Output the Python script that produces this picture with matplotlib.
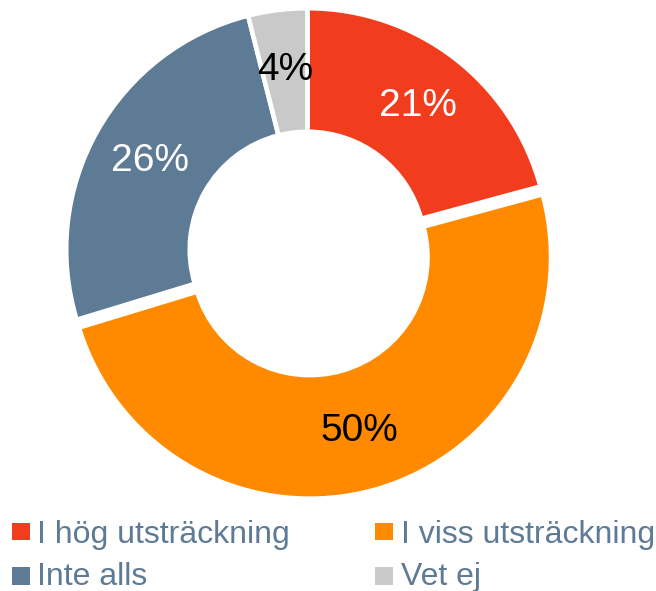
import matplotlib
matplotlib.use("Agg")
import matplotlib.pyplot as plt
from matplotlib.patches import Rectangle

plt.rcParams['font.family'] = ['Liberation Sans', 'DejaVu Sans']

categories = ["I hög utsträckning", "I viss utsträckning", "Inte alls", "Vet ej"]
values = [21, 50, 26, 4]
colors = ["#F23C1E", "#FF8A00", "#5E7B96", "#C9C9C9"]
label_colors = ["white", "black", "white", "black"]
explode = [0, 0.034, 0, 0]

W, H = 656, 591
fig = plt.figure(figsize=(W / 100, H / 100), dpi=100)

# pie axes placed in pixel terms
cx, cy, r = 307.5, 249.5, 241.3
ax = fig.add_axes([(cx - r) / W, 1 - (cy + r) / H, 2 * r / W, 2 * r / H])
wedges, texts, autotexts = ax.pie(
    values, colors=colors, startangle=90, counterclock=False, explode=explode,
    radius=1, autopct=lambda p: f"{round(p * 1.01):.0f}%", pctdistance=0.75,
    wedgeprops=dict(width=0.512, edgecolor="white", linewidth=3.3),
    textprops=dict(fontsize=28))
for t, c in zip(autotexts, label_colors):
    t.set_color(c)
ax.set_xlim(-1, 1)
ax.set_ylim(-1, 1)
ax.set_aspect("equal")
ax.axis("off")

# legend (row-wise: I hög, I viss / Inte alls, Vet ej)
marker_x = [12, 375]
text_x = [37, 401]
row_top = [522.7, 567.3]
baseline = [542.7, 585]
msize = 17.5
for i, (cat, col) in enumerate(zip(categories, colors)):
    c, rr = i % 2, i // 2
    fig.add_artist(Rectangle((marker_x[c] / W, 1 - (row_top[rr] + msize) / H),
                             msize / W, msize / H, transform=fig.transFigure,
                             facecolor=col, edgecolor="none"))
    fig.text(text_x[c] / W, 1 - baseline[rr] / H, cat, fontsize=23,
             color="#5E7B96", ha="left", va="baseline")

fig.savefig("out.png", dpi=100)
